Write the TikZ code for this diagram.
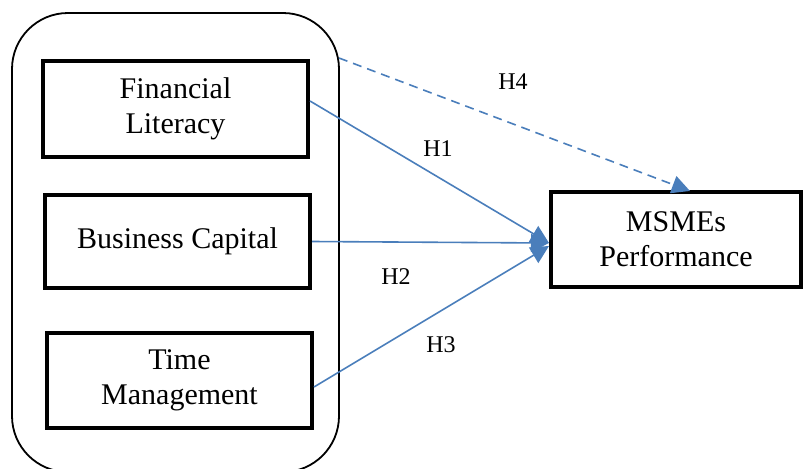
\documentclass[tikz,border=0pt]{standalone}
\usepackage{fontspec}
\setmainfont{Liberation Serif}
\usetikzlibrary{arrows.meta}
\definecolor{arrblue}{HTML}{4A7EBB}
\begin{document}
\begin{tikzpicture}[x=1pt,y=-1pt,
  varbox/.style={draw=black, line width=4pt, align=center, inner sep=0pt, font=\fontsize{30}{35}\selectfont},
  link/.style={draw=arrblue, line width=1.6pt, -{Triangle[length=18pt,width=18pt]}},
  hlabel/.style={font=\fontsize{24}{28}\selectfont, inner sep=0pt}]
\useasboundingbox (0,0) rectangle (804,469);
\begin{scope}
\clip (0,0) rectangle (804,469);
\draw[line width=1.8pt, rounded corners=56pt] (12,13) rectangle (339,472);
\end{scope}
\node[varbox, minimum width=265pt, minimum height=96pt] (fl) at (175.5,109) {Financial\\Literacy};
\node[varbox, minimum width=265pt, minimum height=93pt] (bc) at (177.5,241.5) {Business Capital};
\node[varbox, minimum width=265pt, minimum height=95pt] (tm) at (179.5,380.5) {Time\\Management};
\node[varbox, minimum width=250pt, minimum height=95pt] (ms) at (676,239.5) {MSMEs\\Performance};
\coordinate (h4s) at (339,58);
\coordinate (h4e) at (690,191);
\draw[link] (fl.east |- 0,101) -- (ms.west |- 0,243);
\draw[link] (bc.east) -- (ms.west |- 0,243);
\draw[link] (tm.east |- 0,387) -- (ms.west |- 0,246);
\draw[link, dashed, dash pattern=on 9pt off 6pt] (h4s) -- (h4e);
\node[hlabel] (l4) at (513,82) {H4};
\node[hlabel] (l1) at (438,149) {H1};
\node[hlabel] (l2) at (396,277) {H2};
\node[hlabel] (l3) at (441,345) {H3};
\end{tikzpicture}
\end{document}
